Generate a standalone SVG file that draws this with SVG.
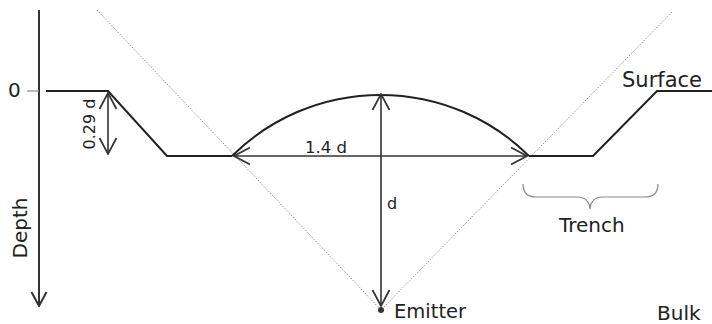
<svg xmlns="http://www.w3.org/2000/svg" width="712" height="324" viewBox="0 0 712 324">
<style>
text{font-family:"DejaVu Sans","Liberation Sans",sans-serif;fill:#222}
.lbl{font-size:20px}
.sm{font-size:16px}
.outline{fill:none;stroke:#222;stroke-width:2}
.arrow{fill:none;stroke:#333;stroke-width:1.6}
.guide{fill:none;stroke:#999;stroke-width:1;stroke-dasharray:1.5 1.5}
.tick{fill:none;stroke:#888;stroke-width:1.2}
.brace{fill:none;stroke:#888;stroke-width:1.2}
</style>
<defs>
<marker id="chev" viewBox="0 0 18 20" refX="17" refY="10" markerWidth="18" markerHeight="20" markerUnits="userSpaceOnUse" orient="auto-start-reverse">
<path d="M1,1.5 L17,10 L1,18.5" fill="none" stroke="#333" stroke-width="1.7"/>
</marker>
<marker id="chevAxis" viewBox="0 0 16 18" refX="15" refY="9" markerWidth="16" markerHeight="18" markerUnits="userSpaceOnUse" orient="auto">
<path d="M1,1.5 L15,9 L1,16.5" fill="none" stroke="#333" stroke-width="2"/>
</marker>
</defs>
<g id="guides">
<line class="guide" x1="97" y1="10" x2="381" y2="310"/>
<line class="guide" x1="672" y1="12" x2="381" y2="310"/>
</g>
<g id="surface">
<path class="outline" d="M46,91 L108,91 L167,156 L232,156"/>
<path class="outline" d="M232,156 A211,211 0 0 1 529,156"/>
<path class="outline" d="M529,156 L593,156 L657,91 L712,91"/>
<text class="lbl" x="622" y="87" style="font-size:21px">Surface</text>
</g>
<g id="depth-axis">
<line class="arrow" x1="39" y1="10" x2="39" y2="306" marker-end="url(#chevAxis)" style="stroke-width:2"/>
<line class="tick" x1="27" y1="91" x2="39" y2="91"/>
<text class="lbl" x="8" y="97">0</text>
<text class="lbl" transform="translate(27,228) rotate(-90)" text-anchor="middle">Depth</text>
</g>
<g id="connectors">
<line class="arrow" x1="108" y1="93" x2="108" y2="154" marker-start="url(#chev)" marker-end="url(#chev)"/>
<line class="arrow" x1="234" y1="156" x2="527" y2="156" marker-start="url(#chev)" marker-end="url(#chev)"/>
<line class="arrow" x1="381" y1="94" x2="381" y2="306" marker-start="url(#chev)" marker-end="url(#chev)"/>
</g>
<g id="dim-labels">
<text class="sm" transform="translate(95,124) rotate(-90)" text-anchor="middle">0.29 d</text>
<text class="sm" x="305" y="153" style="font-size:16.5px">1.4 d</text>
<text class="sm" x="387" y="209">d</text>
</g>
<g id="emitter">
<circle cx="381" cy="310" r="3" fill="#333"/>
<text class="lbl" x="394" y="318" style="font-size:19.5px">Emitter</text>
</g>
<g id="trench">
<path class="brace" d="M523,184 Q523,197 536,197 L577,197 Q589,197 590,209 Q591,197 603,197 L645,197 Q658,197 658,184"/>
<text class="lbl" x="559" y="232">Trench</text>
</g>
<g id="bulk">
<text class="lbl" x="657" y="320">Bulk</text>
</g>
</svg>
